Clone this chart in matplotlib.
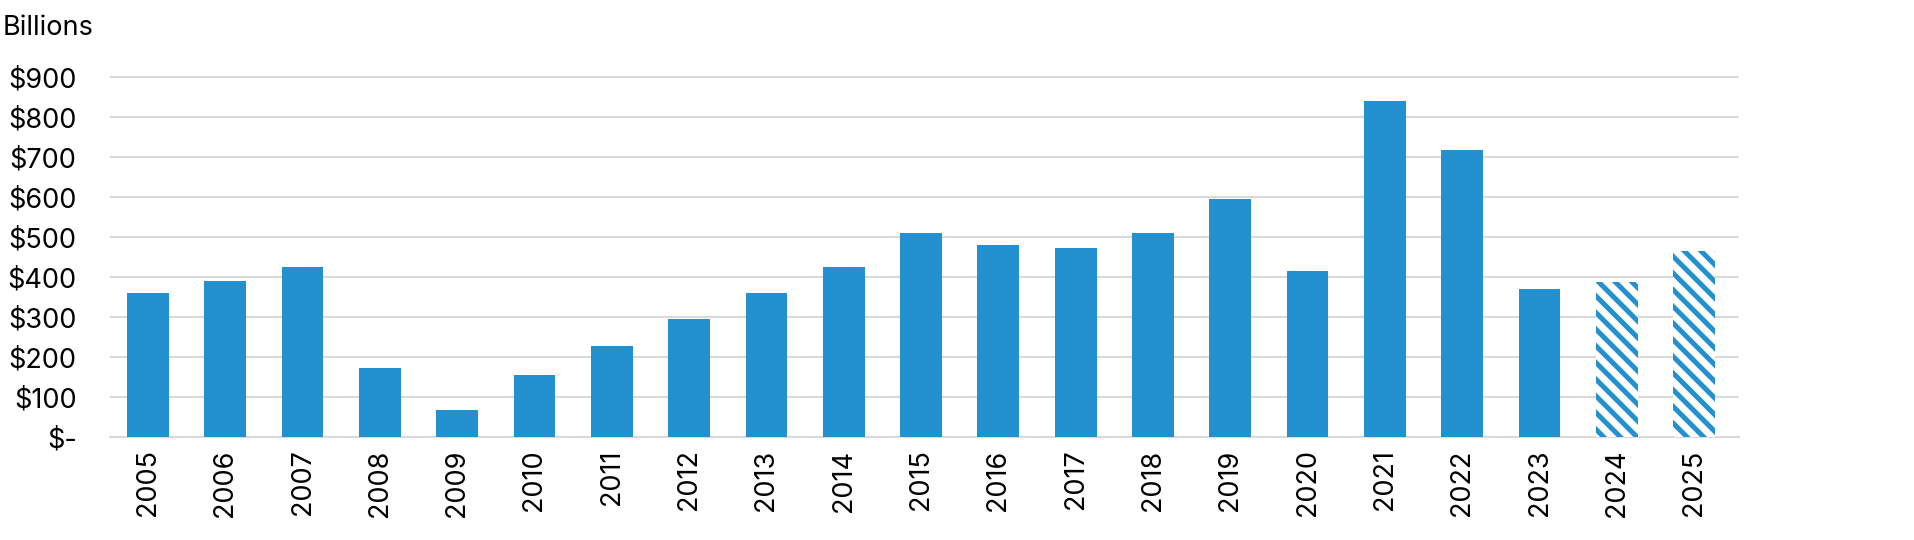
import matplotlib
matplotlib.use("Agg")
import matplotlib.pyplot as plt
from matplotlib.ticker import FuncFormatter

years = ["2005", "2006", "2007", "2008", "2009", "2010", "2011", "2012", "2013", "2014",
         "2015", "2016", "2017", "2018", "2019", "2020", "2021", "2022", "2023", "2024", "2025"]
values = [360, 389, 425, 173, 67, 154, 228, 294, 359, 425,
          511, 481, 472, 511, 594, 416, 840, 717, 369, 388, 464]
projected = [False] * 19 + [True, True]
yticks = [0, 100, 200, 300, 400, 500, 600, 700, 800, 900]

BLUE = "#2390CF"
GRID = "#D9D9D9"

plt.rcParams['font.family'] = ['Inter', 'DejaVu Sans']
plt.rcParams['hatch.linewidth'] = 3.6
plt.rcParams['hatch.color'] = BLUE

fig = plt.figure(figsize=(19.14, 5.40), dpi=100)
ax = fig.add_axes([110/1914, 1-437/540, (1739-110)/1914, (437-73)/540])

x = list(range(len(years)))
for xi, v, p in zip(x, values, projected):
    if p:
        ax.bar(xi, v, width=0.54, color="white", edgecolor=BLUE, hatch="\\\\", linewidth=0, zorder=3)
    else:
        ax.bar(xi, v, width=0.54, color=BLUE, linewidth=0, zorder=3)

ax.set_xlim(-0.49, 20.58)
ax.set_ylim(0, 910)
ax.set_yticks(yticks)
ax.yaxis.set_major_formatter(FuncFormatter(lambda v, p: "$-" if v == 0 else f"${int(v)}"))
ax.set_xticks(x)
ax.set_xticklabels(years, rotation=90)
ax.grid(axis='y', color=GRID, linewidth=1.5, zorder=0)
ax.set_axisbelow(True)
for s in ['top', 'right', 'left']:
    ax.spines[s].set_visible(False)
ax.spines['bottom'].set_color(GRID)
ax.spines['bottom'].set_linewidth(1.5)
ax.tick_params(axis='both', length=0, labelsize=19.5, colors='black')
ax.tick_params(axis='y', pad=24)
ax.tick_params(axis='x', pad=9)
ax.yaxis.get_major_ticks()[0].gridline.set_visible(False)

fig.text(3/1914, 1-28/540, "Billions", fontsize=19.5, va='center', ha='left')

fig.savefig("out.png", dpi=100, facecolor="white")
